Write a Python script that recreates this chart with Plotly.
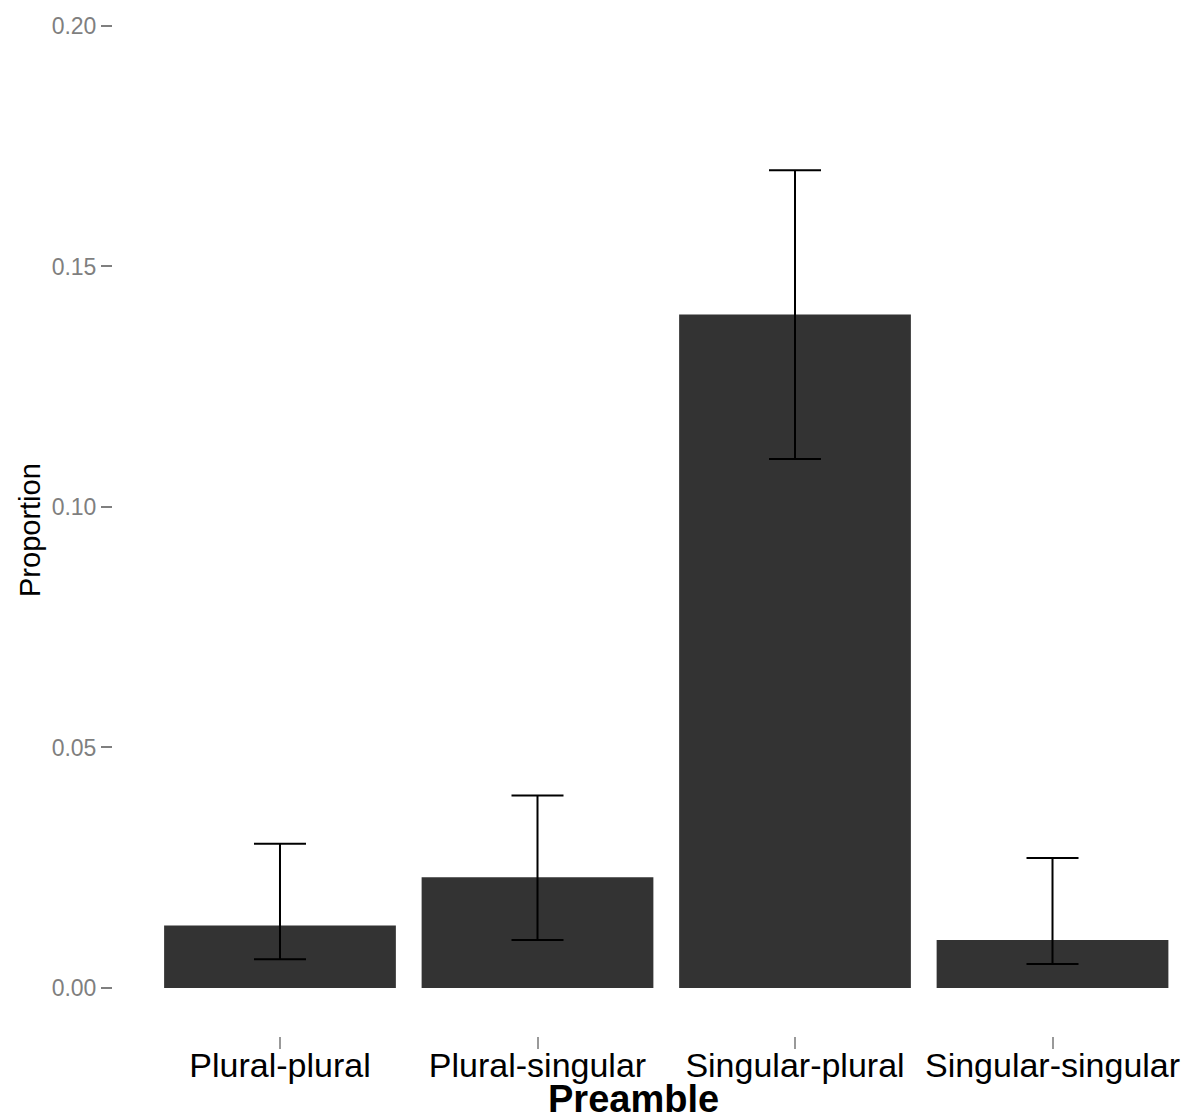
import plotly.graph_objects as go

categories = ["Plural-plural", "Plural-singular", "Singular-plural", "Singular-singular"]
proportion = [0.013, 0.023, 0.140, 0.010]
upper = [0.030, 0.040, 0.170, 0.027]
lower = [0.006, 0.010, 0.110, 0.005]
y_ticks = [0.00, 0.05, 0.10, 0.15, 0.20]
y_tick_labels = ["0.00", "0.05", "0.10", "0.15", "0.20"]

FONT = "Liberation Sans, Arial, Helvetica, sans-serif"

fig = go.Figure()
fig.add_trace(go.Bar(
    x=list(range(len(categories))),
    y=proportion,
    width=0.9,
    marker=dict(color="#333333", line=dict(width=0)),
    error_y=dict(
        type="data",
        symmetric=False,
        array=[u - p for u, p in zip(upper, proportion)],
        arrayminus=[p - l for p, l in zip(proportion, lower)],
        color="black",
        thickness=2,
        width=26,
    ),
    showlegend=False,
))

fig.update_layout(
    width=1192,
    height=1119,
    margin=dict(l=113, r=0, t=0, b=83),
    plot_bgcolor="white",
    paper_bgcolor="white",
    font=dict(family=FONT),
    xaxis=dict(
        range=[-0.6485, 3.5417],
        tickmode="array",
        tickvals=list(range(len(categories))),
        ticktext=categories,
        ticks="outside",
        ticklen=12,
        tickwidth=2,
        tickcolor="#999999",
        ticklabelstandoff=-13,
        tickfont=dict(size=34, color="black", family=FONT),
        showgrid=False,
        zeroline=False,
        showline=False,
    ),
    yaxis=dict(
        range=[-0.00998, 0.2054],
        tickmode="array",
        tickvals=y_ticks,
        ticktext=y_tick_labels,
        ticks="outside",
        ticklen=11,
        tickwidth=2,
        tickcolor="#7F7F7F",
        tickfont=dict(size=23, color="#7F7F7F", family=FONT),
        showgrid=False,
        zeroline=False,
        showline=False,
    ),
    annotations=[
        dict(text="<b>Preamble</b>", xref="paper", yref="paper",
             x=(633 - 113) / 1079, y=-(1099 - 1036) / 1036,
             xanchor="center", yanchor="middle", showarrow=False,
             font=dict(size=38, color="black", family=FONT)),
        dict(text="Proportion", xref="paper", yref="paper",
             x=-(113 - 30) / 1079, y=(1036 - 530) / 1036,
             xanchor="center", yanchor="middle", textangle=-90, showarrow=False,
             font=dict(size=29, color="black", family=FONT)),
    ],
)

fig.write_html("out.html")
